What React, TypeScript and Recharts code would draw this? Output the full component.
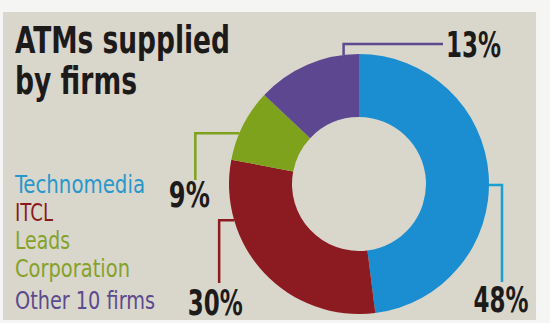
import { PieChart, Pie, Cell } from "recharts";

const firms = ["Technomedia", "ITCL", "Leads Corporation", "Other 10 firms"];
const shares = [48, 30, 9, 13];
const legendLines = ["Technomedia", "ITCL", "Leads", "Corporation", "Other 10 firms"];
const legendLineFirm = [0, 1, 2, 2, 3];

const sliceColors = ["#1a8ed1", "#8c1b21", "#7ea21c", "#5d4790"];
const legendColors = ["#2898cc", "#8b1a20", "#84a22a", "#5b4a8c"];
const lineColors = ["#1a9fd2", "#8c1b21", "#7ea21c", "#5d4a8e"];

const RAD = Math.PI / 180;
const FONT = "'DejaVu Sans Condensed', 'Liberation Sans', sans-serif";

const pieData = firms.map((name, i) => ({ name, value: shares[i] }));

// the original uses a condensed face; squeeze ours to the same widths
const legendWidths = [130, 38, 55, 115, 140];
const legendY = [193, 221, 249, 277, 309];

const renderLabel = (props: any) => {
  const { cx, cy, outerRadius, midAngle, index, value } = props;
  const offsets = [-4, -27, 4, -16.6];
  const a = (midAngle + offsets[index]) * RAD;
  const ax = cx + outerRadius * Math.cos(a);
  const ay = cy - outerRadius * Math.sin(a);
  let d = "";
  let tx = 0;
  let ty = 0;
  let anchor: "start" | "middle" = "middle";
  if (index === 0) {
    d = `M${ax},${ay} H${ax + 13} V${cy + 98}`;
    tx = ax + 12;
    ty = cy + 128;
  } else if (index === 1) {
    d = `M${ax},${ay} H${ax - 15} V${cy + 99}`;
    tx = ax - 19;
    ty = cy + 131;
  } else if (index === 2) {
    d = `M${ax},${ay} H${ax - 44} V${cy - 4}`;
    tx = ax - 50;
    ty = cy + 23;
  } else {
    d = `M${ax},${ay} V${ay - 11} H${cx + 84}`;
    tx = cx + 87;
    ty = cy - 127;
    anchor = "start";
  }
  const txt = `${value}%`;
  return (
    <g key={`lbl-${index}`}>
      <path d={d} fill="none" stroke={lineColors[index]} strokeWidth={2.5} />
      <text
        x={tx}
        y={ty}
        textAnchor={anchor}
        fontFamily={FONT}
        fontWeight="bold"
        fontSize={35}
        fill="#1d1a1a"
        textLength={14 * (txt.length - 1) + 27}
        lengthAdjust="spacingAndGlyphs"
      >
        {txt}
      </text>
    </g>
  );
};

export default function App() {
  return (
    <div style={{ position: "absolute", left: 0, top: 0, width: 550, height: 323, background: "#f5f5f3" }}>
      <div style={{ position: "absolute", left: 3, top: 12, width: 533, height: 308, background: "#d9d6cc" }} />
      <svg width={550} height={323} style={{ position: "absolute", left: 0, top: 0 }}>
        <text
          x={15}
          y={53}
          fontFamily={FONT}
          fontWeight="bold"
          fontSize={37}
          fill="#1d1a1a"
          textLength={215}
          lengthAdjust="spacingAndGlyphs"
        >
          ATMs supplied
        </text>
        <text
          x={15}
          y={94}
          fontFamily={FONT}
          fontWeight="bold"
          fontSize={37}
          fill="#1d1a1a"
          textLength={122}
          lengthAdjust="spacingAndGlyphs"
        >
          by firms
        </text>
        {legendLines.map((t, i) => (
          <text
            key={t}
            x={15}
            y={legendY[i]}
            fontFamily={FONT}
            fontSize={24}
            fill={legendColors[legendLineFirm[i]]}
            textLength={legendWidths[i]}
            lengthAdjust="spacingAndGlyphs"
          >
            {t}
          </text>
        ))}
      </svg>
      <div style={{ position: "absolute", left: 0, top: 0 }}>
        <PieChart width={550} height={323}>
          <Pie
            data={pieData}
            dataKey="value"
            nameKey="name"
            cx={354}
            cy={179}
            innerRadius={67}
            outerRadius={130}
            startAngle={90}
            endAngle={-270}
            stroke="none"
            label={renderLabel}
            labelLine={false}
            isAnimationActive={false}
          >
            {pieData.map((d, i) => (
              <Cell key={d.name} fill={sliceColors[i]} />
            ))}
          </Pie>
        </PieChart>
      </div>
    </div>
  );
}
